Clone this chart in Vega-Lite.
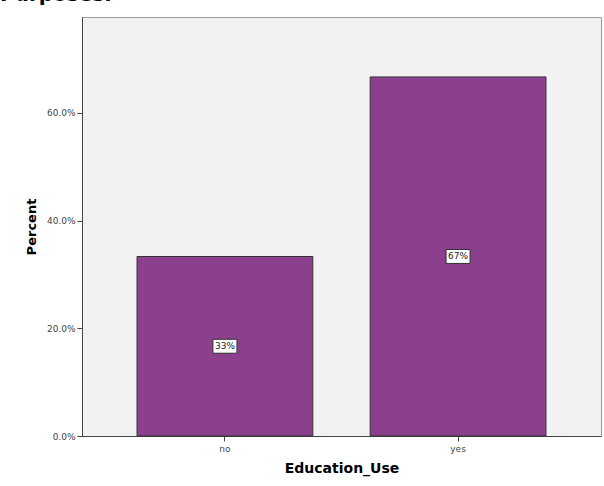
{
  "$schema": "https://vega.github.io/schema/vega-lite/v6.json",
  "width": 519,
  "height": 419,
  "autosize": {"type": "none"},
  "padding": {"left": 82, "top": 17, "right": 3, "bottom": 50},
  "background": "white",
  "title": {"text": "Purposes.", "fontSize": 20, "fontWeight": "bold", "font": "DejaVu Sans", "anchor": "start", "frame": "group", "dx": -82, "offset": 12, "color": "black"},
  "config": {
    "view": {"fill": "#f2f2f2", "stroke": "#9a9a9a", "strokeWidth": 1},
    "axis": {"labelFont": "DejaVu Sans", "titleFont": "DejaVu Sans", "labelFontSize": 9, "labelColor": "#444", "tickColor": "#444", "domainColor": "#444", "tickSize": 5, "grid": false, "titleColor": "black", "titleFontWeight": "bold"}
  },
  "data": {"values": [
    {"Education_Use": "no", "pct": 0.3333},
    {"Education_Use": "yes", "pct": 0.6667}
  ]},
  "transform": [{"calculate": "datum.pct / 2", "as": "mid"}],
  "encoding": {
    "x": {"field": "Education_Use", "type": "nominal",
      "scale": {"paddingInner": 0.246, "paddingOuter": 0.236},
      "axis": {"title": "Education_Use", "titleFontSize": 14, "titlePadding": 8, "labelAngle": 0, "labelPadding": 3, "domain": true}}
  },
  "layer": [
    {
      "mark": {"type": "bar", "fill": "#8b3f8c", "stroke": "#333", "strokeWidth": 1},
      "encoding": {
        "y": {"field": "pct", "type": "quantitative",
          "scale": {"domain": [0, 0.778], "nice": false},
          "axis": {"title": "Percent", "titleFontSize": 13, "titlePadding": 8, "format": ".1%", "values": [0, 0.2, 0.4, 0.6], "labelPadding": 2}}
      }
    },
    {
      "mark": {"type": "point", "shape": "M-1,-0.58H1V0.58H-1Z", "size": 576, "filled": true, "fill": "white", "stroke": "#333", "strokeWidth": 1, "opacity": 1},
      "encoding": {
        "y": {"field": "mid", "type": "quantitative"}
      }
    },
    {
      "mark": {"type": "text", "font": "DejaVu Sans", "fontSize": 9, "color": "#222", "baseline": "middle", "align": "center"},
      "encoding": {
        "y": {"field": "mid", "type": "quantitative"},
        "text": {"field": "pct", "type": "quantitative", "format": ".0%"}
      }
    }
  ]
}
